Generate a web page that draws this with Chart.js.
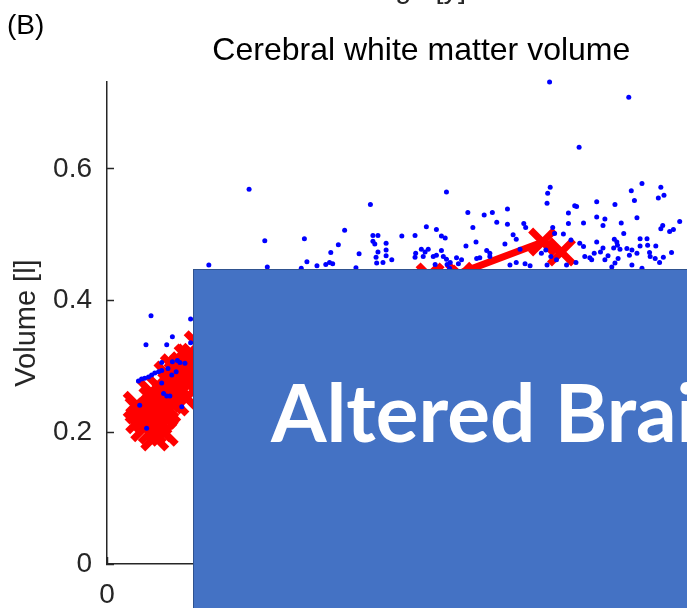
<!DOCTYPE html>
<html>
<head>
<meta charset="utf-8">
<script src="https://cdn.jsdelivr.net/npm/chart.js@4.4.1/dist/chart.umd.min.js"></script>
<style>
  html, body { margin: 0; padding: 0; overflow: hidden; background: #fff; }
  #wrap { position: relative; width: 687px; height: 608px; overflow: hidden; background: #fff; }
  #chart { position: absolute; left: 0; top: 0; }
  .label { position: absolute; font-family: "Liberation Sans", Arial, sans-serif; white-space: nowrap; line-height: 1; }
  #panel { left: 7px; top: 11px; font-size: 28px; color: #000; }
  #prev { left: 321px; top: -26px; width: 200px; text-align: center; font-size: 29px; color: #262626; }
  #cover { position: absolute; left: 193px; top: 269px; width: 600px; height: 400px;
           background: #4472c4; border: 1.5px solid #2f528f; }
  #cover span { position: absolute; left: 77px; top: 101px; font-family: Lato, "Open Sans", sans-serif;
                font-weight: 700; font-size: 80px; line-height: 1; color: #fff; white-space: nowrap; }
</style>
</head>
<body>
<div id="wrap">
  <canvas id="chart" width="780" height="608"></canvas>
  <div class="label" id="panel">(B)</div>
  <div class="label" id="prev">Age [y]</div>
  <div id="cover"><span>Altered Brain</span></div>
</div>
<script>
// cross-sectional sample (blue dots)
const blueAge = [7.0, 13.3, 10.4, 6.2, 9.5, 13.3, 8.7, 10.4, 11.2, 11.6, 12.4, 9.7, 11.0,
  5.0, 5.5, 6.0, 6.6, 7.1, 7.6, 8.2, 8.7, 10.3, 8.7, 9.0, 9.5, 10.0, 5.2, 11.9, 6.3,
  22.6, 25.1, 31.4, 37.8, 36.8, 35.6, 40.1, 31.8, 16.2, 25.5, 30.9, 33.4, 34.8, 35.9, 35.4, 39.6,
  41.9, 42.3, 43.1, 42.3, 42.6, 44.4, 43.1, 44.4, 44.4, 42.8, 43.9, 45.3, 42.9,
  46.9, 49.0, 50.8, 52.4, 54.0, 57.4, 60.0, 58.2, 53.2, 53.8, 57.1, 58.7, 60.4,
  50.0, 51.1, 50.6, 49.1, 49.0, 50.3, 52.4, 53.2, 52.2, 54.0, 55.6, 56.4, 55.9, 54.1, 51.9,
  61.3, 63.7, 62.0, 63.7, 66.3, 66.6, 64.6, 65.1, 63.3, 60.9, 60.9, 65.7, 65.1, 64.1, 58.8, 59.3, 54.6,
  70.4, 83.0, 75.1, 70.5, 70.1, 83.4, 85.1, 88.1, 88.6, 87.7, 70.0, 74.4, 74.7, 77.9, 80.8, 83.9,
  73.4, 73.4, 75.8, 77.9, 79.2, 78.9, 81.8, 82.2, 84.3, 91.1, 90.1, 89.5, 88.4, 88.1,
  70.9, 72.6, 71.2, 73.8, 75.2, 75.8, 77.9, 78.9, 78.5, 77.5, 76.8, 77.1, 76.0,
  80.7, 81.1, 81.2, 80.6, 79.7, 81.3, 81.6, 84.8, 85.9, 84.8, 86.0, 87.3, 84.3, 82.7, 83.5, 83.1,
  86.4, 86.3, 87.2, 88.5, 89.8, 80.8, 80.3, 83.5, 85.1, 87.9, 74.6, 73.1, 70.0, 67.3,
  69.8, 70.6, 69.1, 71.5, 79.2, 66.5, 54.5, 53.5];
const blueVol = [0.377, 0.372, 0.345, 0.333, 0.333, 0.336, 0.306, 0.307, 0.309, 0.306, 0.305, 0.297, 0.292,
  0.278, 0.281, 0.282, 0.284, 0.287, 0.290, 0.292, 0.294, 0.287, 0.275, 0.259, 0.255, 0.255, 0.241, 0.239, 0.206,
  0.569, 0.491, 0.494, 0.507, 0.485, 0.473, 0.471, 0.459, 0.454, 0.451, 0.449, 0.453, 0.455, 0.456, 0.458, 0.450,
  0.546, 0.499, 0.499, 0.490, 0.486, 0.487, 0.474, 0.477, 0.468, 0.466, 0.458, 0.462, 0.457,
  0.498, 0.499, 0.512, 0.508, 0.565, 0.534, 0.530, 0.511, 0.498, 0.495, 0.483, 0.489, 0.476,
  0.478, 0.478, 0.474, 0.472, 0.466, 0.467, 0.469, 0.476, 0.455, 0.463, 0.465, 0.462, 0.456, 0.455, 0.467,
  0.534, 0.539, 0.519, 0.516, 0.517, 0.511, 0.500, 0.493, 0.486, 0.472, 0.467, 0.478, 0.458, 0.454, 0.464, 0.465, 0.458,
  0.732, 0.709, 0.633, 0.572, 0.563, 0.567, 0.578, 0.572, 0.560, 0.556, 0.548, 0.544, 0.543, 0.550, 0.546, 0.552,
  0.533, 0.517, 0.518, 0.527, 0.524, 0.514, 0.518, 0.502, 0.526, 0.520, 0.508, 0.505, 0.514, 0.509,
  0.511, 0.501, 0.502, 0.492, 0.487, 0.482, 0.489, 0.480, 0.474, 0.472, 0.465, 0.462, 0.467,
  0.493, 0.489, 0.484, 0.480, 0.468, 0.464, 0.478, 0.494, 0.494, 0.483, 0.484, 0.483, 0.472, 0.479, 0.477, 0.469,
  0.467, 0.473, 0.464, 0.466, 0.473, 0.457, 0.451, 0.454, 0.449, 0.458, 0.458, 0.454, 0.454, 0.453,
  0.477, 0.467, 0.472, 0.462, 0.462, 0.456, 0.449, 0.467];

// red crosses, young cohort plus two older subjects
const redAge = [4.8, 5.2, 6.0, 6.7, 7.3, 7.6, 8.1, 8.6, 9.1, 9.4, 9.5, 10.3, 10.8, 11.3, 11.8,
  12.2, 12.7, 13.2, 13.5, 7.0, 8.4, 10.0, 12.6, 9.7, 14.5,
  5.7, 6.4, 7.2, 8.0, 8.9, 9.2, 10.2, 11.1, 11.6, 12.1, 13.0, 14.0, 14.2, 12.9, 8.3, 6.8, 5.1, 10.7,
  51.4, 56.1];
const redVol = [0.241, 0.219, 0.207, 0.231, 0.249, 0.193, 0.216, 0.237, 0.200, 0.257, 0.234, 0.272, 0.246, 0.287, 0.261,
  0.301, 0.276, 0.313, 0.289, 0.261, 0.267, 0.249, 0.252, 0.287, 0.333,
  0.231, 0.219, 0.203, 0.234, 0.226, 0.241, 0.260, 0.272, 0.295, 0.282, 0.301, 0.314, 0.307, 0.313, 0.207, 0.222, 0.234, 0.298,
  0.436, 0.437];

// red track, connected
const trackAge = [53.7, 69.3, 72.3];
const trackVol = [0.433, 0.489, 0.474];

const xTicks = [0, 20, 40, 60, 80, 100];
const yTicks = [0, 0.2, 0.4, 0.6];
const yMax = 0.732;

const toPoints = (xs, ys) => xs.map((x, i) => ({ x: x, y: ys[i] }));

const axisColor = '#262626';
const tickFont = { family: '"Liberation Sans", Arial, sans-serif', size: 28 };

new Chart(document.getElementById('chart').getContext('2d'), {
  type: 'scatter',
  data: {
    datasets: [
      {
        data: toPoints(blueAge, blueVol),
        pointStyle: 'circle',
        pointRadius: 2.5,
        pointBackgroundColor: '#0000ff',
        pointBorderWidth: 0,
        clip: false,
        order: 0
      },
      {
        data: toPoints(redAge, redVol),
        pointStyle: 'crossRot',
        pointRadius: 17,
        pointBorderColor: '#ff0000',
        pointBorderWidth: 7,
        clip: false,
        order: 1
      },
      {
        data: toPoints(trackAge, trackVol),
        showLine: true,
        borderColor: '#ff0000',
        borderWidth: 7,
        pointStyle: 'crossRot',
        pointRadius: 17,
        pointBorderColor: '#ff0000',
        pointBorderWidth: 7,
        clip: false,
        order: 1
      }
    ]
  },
  options: {
    responsive: false,
    animation: false,
    events: [],
    layout: { padding: 0 },
    plugins: {
      legend: { display: false },
      tooltip: { enabled: false },
      title: {
        display: true,
        fullSize: false,
        text: 'Cerebral white matter volume',
        color: '#000',
        font: { family: '"Liberation Sans", Arial, sans-serif', size: 32, weight: 'normal', lineHeight: 1.2 },
        padding: { top: 32, bottom: 11.6 }
      }
    },
    scales: {
      x: {
        type: 'linear',
        min: 0,
        max: 100,
        afterBuildTicks: s => { s.ticks = xTicks.map(v => ({ value: v })); },
        afterFit: s => { s.height = 44; },
        border: { display: true, color: axisColor, width: 1.5 },
        grid: { drawOnChartArea: false, tickLength: -7, color: axisColor, tickWidth: 1.5 },
        ticks: { color: axisColor, font: tickFont, padding: 21, maxRotation: 0 }
      },
      y: {
        type: 'linear',
        min: 0,
        max: yMax,
        afterBuildTicks: s => { s.ticks = yTicks.map(v => ({ value: v })); },
        afterFit: s => { s.width = 107; },
        border: { display: true, color: axisColor, width: 1.5 },
        grid: { drawOnChartArea: false, tickLength: -7, color: axisColor, tickWidth: 1.5 },
        ticks: { color: axisColor, font: tickFont, padding: 22, callback: v => String(v) },
        title: {
          display: true,
          text: 'Volume [l]',
          color: axisColor,
          font: { family: '"Liberation Sans", Arial, sans-serif', size: 29, lineHeight: 1.2 },
          padding: { top: 10, bottom: 0 }
        }
      }
    }
  }
});
</script>
</body>
</html>
